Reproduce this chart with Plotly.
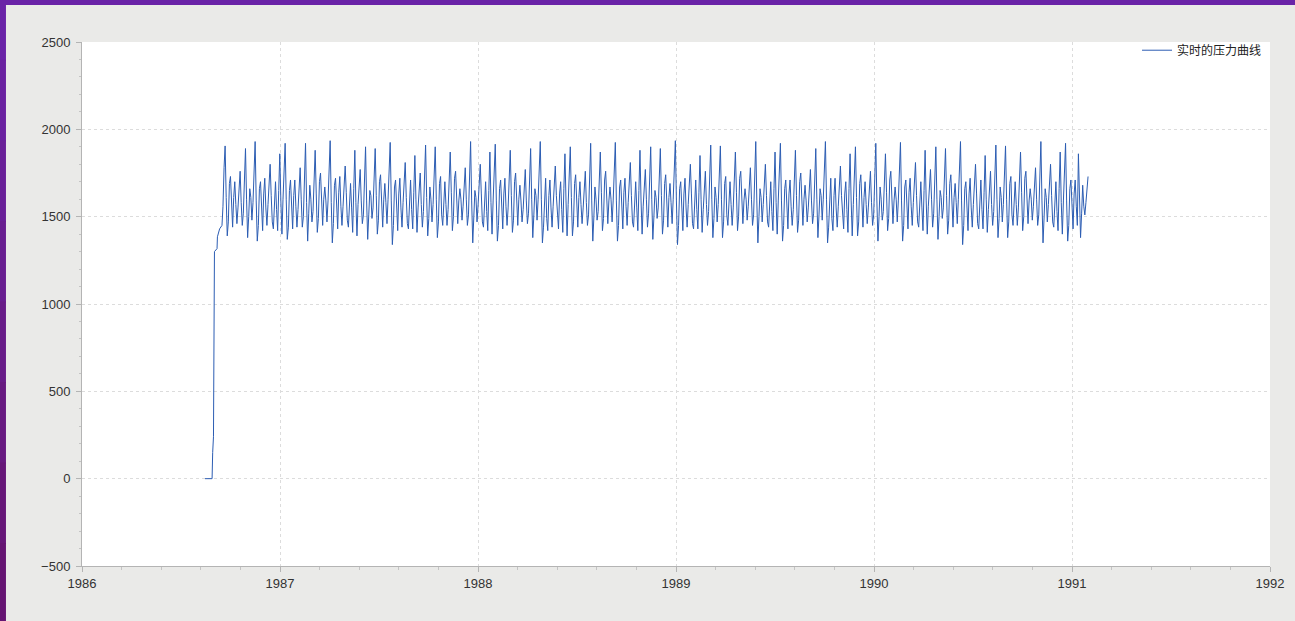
import plotly.graph_objects as go

# Start-up phase: pressure held at zero, then ramping up (time in decimal years)
ramp_t = [1986.621, 1986.657, 1986.660, 1986.664, 1986.669, 1986.682, 1986.684,
          1986.695, 1986.707]
ramp_p = [0, 0, 150, 240, 1300, 1317, 1385, 1430, 1450]

# Steady operation: regularly sampled pressure readings
osc_start = 1986.712
osc_step = 0.005414
osc_p = [
    1560, 1780, 1905, 1610, 1390, 1470, 1690, 1730, 1510, 1440, 1610, 1700, 1570, 1460,
    1550, 1680, 1760, 1580, 1450, 1520, 1750, 1890, 1600, 1380, 1500, 1660, 1610, 1480,
    1580, 1810, 1930, 1590, 1360, 1450, 1660, 1700, 1490, 1420, 1630, 1720, 1550, 1450,
    1570, 1720, 1800, 1620, 1470, 1430, 1620, 1700, 1540, 1420, 1650, 1860, 1590, 1400,
    1600, 1820, 1920, 1600, 1370, 1440, 1650, 1710, 1500, 1430, 1620, 1710, 1560, 1440,
    1540, 1700, 1780, 1600, 1440, 1500, 1730, 1920, 1580, 1360, 1520, 1680, 1600, 1470,
    1530, 1760, 1880, 1630, 1410, 1490, 1700, 1750, 1530, 1450, 1600, 1670, 1590, 1470,
    1590, 1800, 1935, 1580, 1350, 1460, 1680, 1720, 1500, 1430, 1640, 1730, 1560, 1450,
    1560, 1700, 1790, 1640, 1480, 1440, 1630, 1690, 1550, 1410, 1660, 1880, 1580, 1390,
    1570, 1690, 1770, 1590, 1460, 1510, 1760, 1900, 1590, 1370, 1510, 1650, 1620, 1490,
    1550, 1770, 1890, 1620, 1400, 1480, 1700, 1740, 1520, 1440, 1600, 1690, 1580, 1460,
    1600, 1830, 1925, 1590, 1340, 1450, 1670, 1710, 1490, 1420, 1630, 1720, 1550, 1440,
    1580, 1730, 1810, 1610, 1460, 1430, 1610, 1710, 1540, 1430, 1640, 1850, 1600, 1410,
    1550, 1670, 1750, 1570, 1440, 1530, 1740, 1910, 1610, 1390, 1490, 1670, 1600, 1470,
    1570, 1790, 1900, 1600, 1380, 1470, 1690, 1730, 1510, 1450, 1620, 1700, 1570, 1450,
    1540, 1750, 1870, 1640, 1420, 1500, 1720, 1760, 1540, 1460, 1590, 1660, 1600, 1480,
    1560, 1700, 1780, 1600, 1450, 1510, 1750, 1930, 1590, 1350, 1500, 1650, 1610, 1470,
    1570, 1720, 1800, 1630, 1470, 1440, 1620, 1700, 1530, 1420, 1650, 1870, 1580, 1400,
    1590, 1810, 1915, 1590, 1360, 1450, 1660, 1710, 1500, 1430, 1630, 1720, 1560, 1450,
    1550, 1770, 1880, 1620, 1410, 1480, 1700, 1750, 1520, 1450, 1600, 1680, 1590, 1470,
    1540, 1690, 1770, 1590, 1460, 1520, 1740, 1890, 1600, 1380, 1510, 1660, 1620, 1480,
    1600, 1820, 1930, 1600, 1350, 1440, 1650, 1720, 1490, 1420, 1620, 1710, 1550, 1440,
    1560, 1710, 1790, 1620, 1480, 1430, 1630, 1700, 1540, 1410, 1660, 1860, 1590, 1390,
    1570, 1780, 1900, 1610, 1390, 1470, 1690, 1740, 1510, 1440, 1610, 1700, 1570, 1460,
    1550, 1680, 1760, 1580, 1450, 1510, 1750, 1920, 1590, 1360, 1500, 1670, 1600, 1480,
    1530, 1750, 1870, 1640, 1420, 1490, 1710, 1760, 1530, 1460, 1590, 1670, 1600, 1470,
    1590, 1800, 1925, 1590, 1360, 1450, 1670, 1710, 1500, 1430, 1640, 1720, 1560, 1450,
    1580, 1730, 1810, 1620, 1470, 1440, 1610, 1700, 1550, 1420, 1650, 1880, 1590, 1400,
    1560, 1690, 1770, 1600, 1440, 1520, 1760, 1900, 1600, 1370, 1500, 1650, 1610, 1490,
    1550, 1770, 1890, 1620, 1400, 1480, 1690, 1740, 1520, 1440, 1610, 1690, 1580, 1460,
    1600, 1830, 1935, 1590, 1340, 1450, 1660, 1700, 1490, 1420, 1630, 1720, 1550, 1440,
    1570, 1720, 1800, 1630, 1460, 1430, 1620, 1710, 1540, 1430, 1640, 1850, 1600, 1410,
    1540, 1680, 1760, 1570, 1450, 1530, 1740, 1910, 1600, 1380, 1490, 1670, 1610, 1470,
    1570, 1790, 1905, 1600, 1380, 1470, 1690, 1730, 1510, 1450, 1620, 1700, 1570, 1450,
    1550, 1760, 1870, 1640, 1420, 1500, 1720, 1760, 1540, 1460, 1590, 1660, 1600, 1480,
    1560, 1700, 1780, 1600, 1450, 1510, 1750, 1930, 1590, 1350, 1500, 1660, 1610, 1470,
    1570, 1710, 1800, 1620, 1470, 1440, 1630, 1700, 1530, 1420, 1660, 1870, 1580, 1400,
    1590, 1810, 1920, 1590, 1360, 1450, 1660, 1710, 1500, 1430, 1630, 1710, 1560, 1450,
    1540, 1770, 1880, 1620, 1410, 1480, 1700, 1750, 1520, 1450, 1600, 1680, 1590, 1470,
    1550, 1690, 1770, 1590, 1460, 1520, 1740, 1890, 1600, 1380, 1510, 1660, 1620, 1480,
    1600, 1820, 1930, 1600, 1350, 1440, 1650, 1720, 1490, 1420, 1620, 1720, 1550, 1440,
    1560, 1720, 1790, 1620, 1480, 1430, 1630, 1700, 1540, 1410, 1660, 1860, 1590, 1390,
    1570, 1780, 1900, 1610, 1390, 1470, 1690, 1740, 1510, 1440, 1610, 1700, 1570, 1460,
    1550, 1680, 1760, 1580, 1450, 1510, 1750, 1920, 1590, 1360, 1500, 1670, 1600, 1480,
    1530, 1750, 1860, 1640, 1420, 1490, 1710, 1760, 1530, 1460, 1590, 1670, 1600, 1470,
    1590, 1800, 1925, 1590, 1360, 1450, 1670, 1710, 1500, 1430, 1640, 1720, 1560, 1450,
    1580, 1730, 1810, 1620, 1470, 1440, 1610, 1700, 1550, 1420, 1650, 1880, 1590, 1400,
    1560, 1690, 1770, 1600, 1440, 1520, 1760, 1900, 1600, 1370, 1500, 1650, 1610, 1490,
    1550, 1770, 1890, 1620, 1400, 1480, 1690, 1740, 1520, 1440, 1610, 1690, 1580, 1460,
    1600, 1830, 1930, 1590, 1340, 1450, 1660, 1700, 1490, 1420, 1630, 1720, 1550, 1440,
    1570, 1720, 1800, 1630, 1460, 1430, 1620, 1710, 1540, 1430, 1640, 1850, 1600, 1410,
    1540, 1680, 1760, 1570, 1450, 1530, 1740, 1910, 1600, 1380, 1490, 1670, 1610, 1470,
    1570, 1790, 1905, 1600, 1380, 1470, 1690, 1730, 1510, 1450, 1620, 1700, 1570, 1450,
    1550, 1760, 1870, 1640, 1420, 1500, 1720, 1760, 1540, 1460, 1590, 1660, 1600, 1480,
    1560, 1700, 1780, 1600, 1450, 1510, 1750, 1930, 1590, 1350, 1500, 1660, 1610, 1470,
    1570, 1710, 1800, 1620, 1470, 1440, 1630, 1700, 1530, 1420, 1660, 1870, 1580, 1400,
    1590, 1810, 1920, 1590, 1360, 1450, 1660, 1710, 1500, 1430, 1630, 1710, 1560, 1450,
    1860, 1600, 1380, 1520, 1680, 1560, 1510, 1580, 1660, 1730,
]

t = list(ramp_t) + [osc_start + i * osc_step for i in range(len(osc_p))]
p = list(ramp_p) + list(osc_p)

fig = go.Figure()
fig.add_trace(go.Scatter(
    x=t, y=p, mode="lines", name="实时的压力曲线",
    line=dict(color="#2c5db3", width=1),
))

axis_font = dict(family="Arial, Liberation Sans, sans-serif", size=13, color="#333333")
grid_color = "#dcdcdc"

fig.update_xaxes(
    range=[1986, 1992], dtick=1, tick0=1986, tickformat="d",
    showgrid=True, gridcolor=grid_color, griddash="dot", gridwidth=1,
    showline=True, linecolor="#b4b4b4", linewidth=1,
    ticks="outside", ticklen=5, tickcolor="#b4b4b4",
    minor=dict(dtick=0.2, ticks="outside", ticklen=3, tickcolor="#c4c4c4", showgrid=False),
    zeroline=False, tickfont=axis_font,
)
fig.update_yaxes(
    range=[-500, 2500], dtick=500, tick0=0, tickformat="d",
    showgrid=True, gridcolor=grid_color, griddash="dot", gridwidth=1,
    showline=True, linecolor="#b4b4b4", linewidth=1,
    ticks="outside", ticklen=5, tickcolor="#b4b4b4",
    minor=dict(dtick=100, ticks="outside", ticklen=2, tickcolor="#c4c4c4", showgrid=False),
    zeroline=False, tickfont=axis_font, ticklabelstandoff=3,
)

# Window frame bands along the top and left edges
shapes = [dict(type="rect", xref="paper", yref="paper",
               x0=-0.08, x1=1.05, y0=1.0706, y1=1.12,
               fillcolor="#6a23a7", line=dict(width=0), layer="above")]
frame_cols = ["#6a23a7", "#6a21a0", "#691f98", "#681d90", "#681b88",
              "#671980", "#661678", "#651472"]
y_lo, y_hi = -0.11, 1.12
for k, c in enumerate(frame_cols):
    ya = y_hi - (y_hi - y_lo) * k / len(frame_cols)
    yb = y_hi - (y_hi - y_lo) * (k + 1) / len(frame_cols)
    shapes.append(dict(type="rect", xref="paper", yref="paper",
                       x0=-0.08, x1=-0.0640, y0=yb - 0.002, y1=ya,
                       fillcolor=c, line=dict(width=0), layer="above"))

fig.update_layout(
    width=1295, height=621,
    margin=dict(l=82, r=25, t=42, b=55),
    paper_bgcolor="#eaeae8", plot_bgcolor="#ffffff",
    showlegend=True,
    legend=dict(x=0.9975, xanchor="right", y=1.012, yanchor="top",
                bgcolor="rgba(0,0,0,0)", borderwidth=0,
                font=dict(family="Noto Sans CJK SC", size=12, color="#222222")),
    shapes=shapes,
)

fig.write_html("out.html")
